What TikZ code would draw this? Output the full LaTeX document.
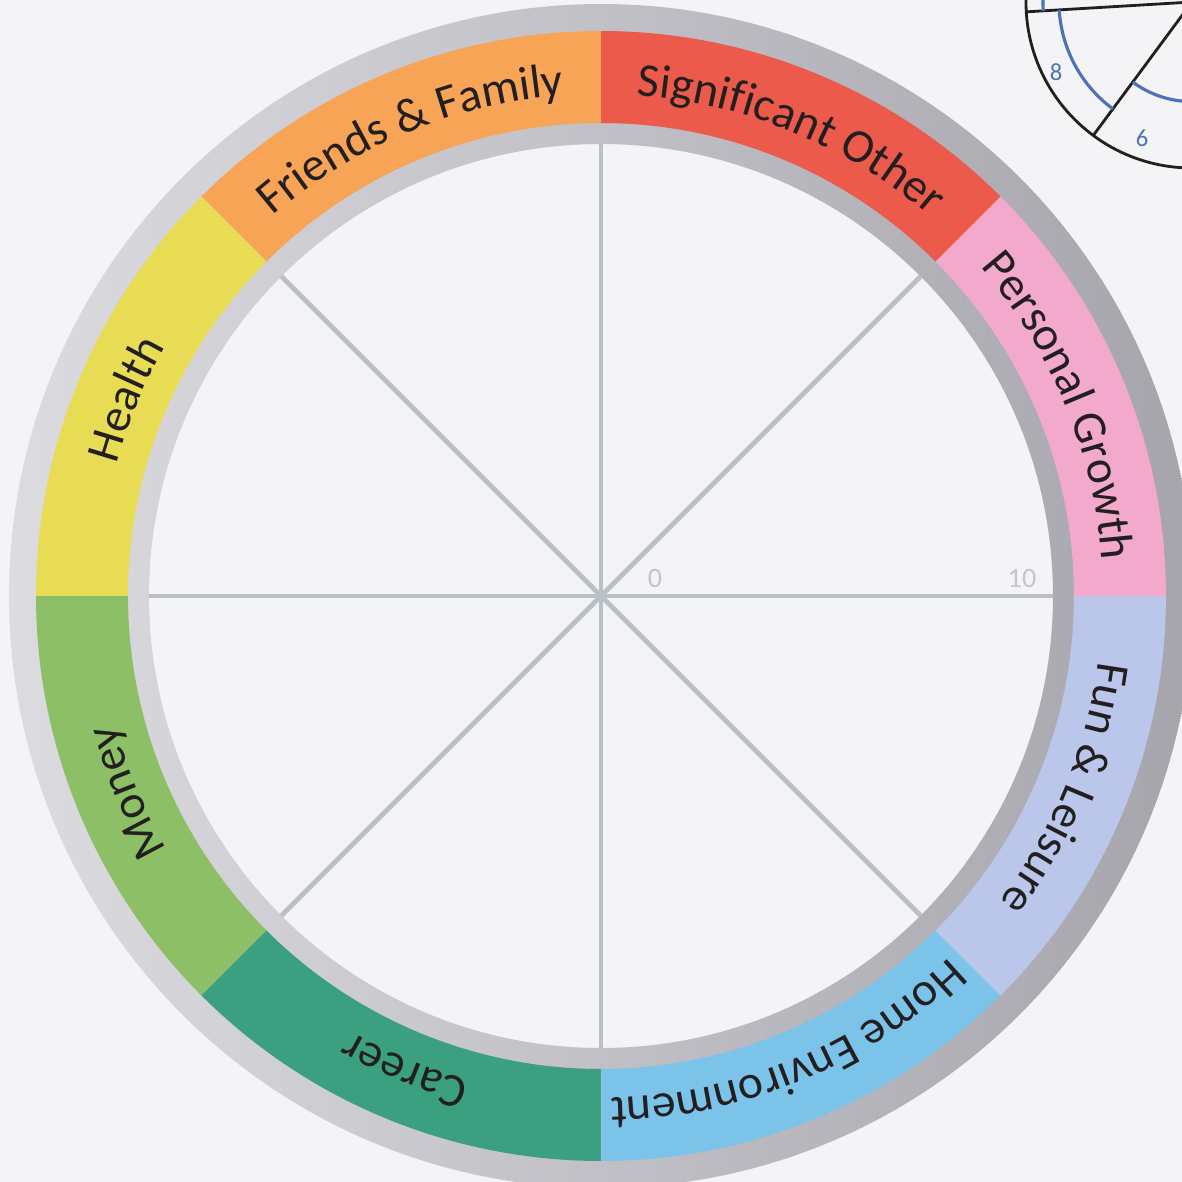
\documentclass[tikz,border=0pt]{standalone}
\usepackage{fontspec}
\setmainfont{Carlito}
\usepackage{xcolor}
\usepackage{tikz}
\usetikzlibrary{decorations.text}

\definecolor{bgpaper}{HTML}{F4F4F6}
\definecolor{ringlight}{HTML}{DCDBE0}
\definecolor{ringdark}{HTML}{A6A5AC}
\definecolor{spokegray}{HTML}{B9C0C6}
\definecolor{scalegray}{HTML}{C3C6CA}
\definecolor{txtdark}{HTML}{231F20}
\definecolor{pgrowth}{HTML}{F2A9CB}
\definecolor{sigother}{HTML}{EC5A4B}
\definecolor{friends}{HTML}{F8A456}
\definecolor{health}{HTML}{E8DC55}
\definecolor{money}{HTML}{8DC066}
\definecolor{career}{HTML}{3AA07F}
\definecolor{homeenv}{HTML}{7CC3EA}
\definecolor{funleis}{HTML}{BAC6EA}
\definecolor{miniline}{HTML}{231F20}
\definecolor{miniblue}{HTML}{4D72B8}

\newcommand{\labfont}{\fontsize{13.5}{16}\selectfont}

\tikzset{
  spoke/.style={draw=spokegray, line width=1.4pt},
  arclab/.style={postaction={decorate},
    decoration={text along path, text align=center, text color=txtdark, text={|\labfont|#1}}},
  scalelab/.style={text=scalegray, font=\fontsize{8}{9}\selectfont, inner sep=0pt},
  mini/.style={draw=miniline, line width=0.8pt},
  minibar/.style={draw=miniblue, line width=0.9pt},
  minilab/.style={text=miniblue, font=\fontsize{7}{8}\selectfont, inner sep=0pt},
}

\begin{document}
\begin{tikzpicture}
  \fill[bgpaper] (0,0) rectangle (11.82,11.82);
  \useasboundingbox (0,0) rectangle (11.82,11.82);
  \coordinate (C) at (6.01,5.86);

  % silver ring
  \shade[left color=ringlight, right color=ringdark, even odd rule] (C) circle (5.92) (C) circle (4.52);

  % coloured band and spokes
  \begin{scope}[shift={(C)}]
    \foreach \a/\col in {0/pgrowth,45/sigother,90/friends,135/health,180/money,225/career,270/homeenv,315/funleis}
      \fill[\col] (\a:4.73) arc[start angle=\a, end angle=\a+45, radius=4.73]
        -- (\a+45:5.65) arc[start angle=\a+45, end angle=\a, radius=5.65] -- cycle;
    \foreach \a in {0,45,...,315}
      \coordinate (rim\a) at (\a:4.52);
  \end{scope}
  \foreach \a in {0,45,...,315}
    \draw[spoke] (C) -- (rim\a);

  \node[scalelab] (zero) at (6.55,6.04) {0};
  \node[scalelab] (ten) at (10.22,6.04) {10};

  % labels along the band
  \begin{scope}[shift={(C)}]
    \path[arclab={Personal Growth}] (45:5.02) arc[start angle=45, end angle=0, radius=5.02];
    \path[arclab={Significant Other}] (90:5.02) arc[start angle=90, end angle=45, radius=5.02];
    \path[arclab={Friends {\&} Family}] (135:5.02) arc[start angle=135, end angle=90, radius=5.02];
    \path[arclab={Health}] (180:5.02) arc[start angle=180, end angle=135, radius=5.02];
    \path[arclab={Money}] (225:5.02) arc[start angle=225, end angle=180, radius=5.02];
    \path[arclab={Career}] (270:5.02) arc[start angle=270, end angle=225, radius=5.02];
    \path[arclab={Home Environment}] (315:5.02) arc[start angle=315, end angle=270, radius=5.02];
    \path[arclab={Fun {\&} Leisure}] (360:5.02) arc[start angle=360, end angle=315, radius=5.02];
  \end{scope}

  % corner of the next wheel
  \begin{scope}
    \clip (0,0) rectangle (11.82,11.82);
    \coordinate (W) at (11.92,11.80);
    \draw[mini] (W) circle (1.66);
    \coordinate (w183) at ([shift={(183.4:1.66)}]W);
    \coordinate (w233) at ([shift={(233.5:1.66)}]W);
    \draw[mini] (W) -- (w183);
    \draw[mini] (W) -- (w233);
    \draw[minibar] ([shift={(170:1.49)}]W) arc[start angle=170, end angle=183.4, radius=1.49];
    \draw[minibar] ([shift={(183.4:1.33)}]W) arc[start angle=183.4, end angle=233.5, radius=1.33];
    \draw[minibar] ([shift={(233.5:0.996)}]W) arc[start angle=233.5, end angle=290, radius=0.996];
    \node[minilab] (eight) at (10.56,11.10) {8};
    \node[minilab] (six) at (11.42,10.44) {6};
  \end{scope}
\end{tikzpicture}
\end{document}
